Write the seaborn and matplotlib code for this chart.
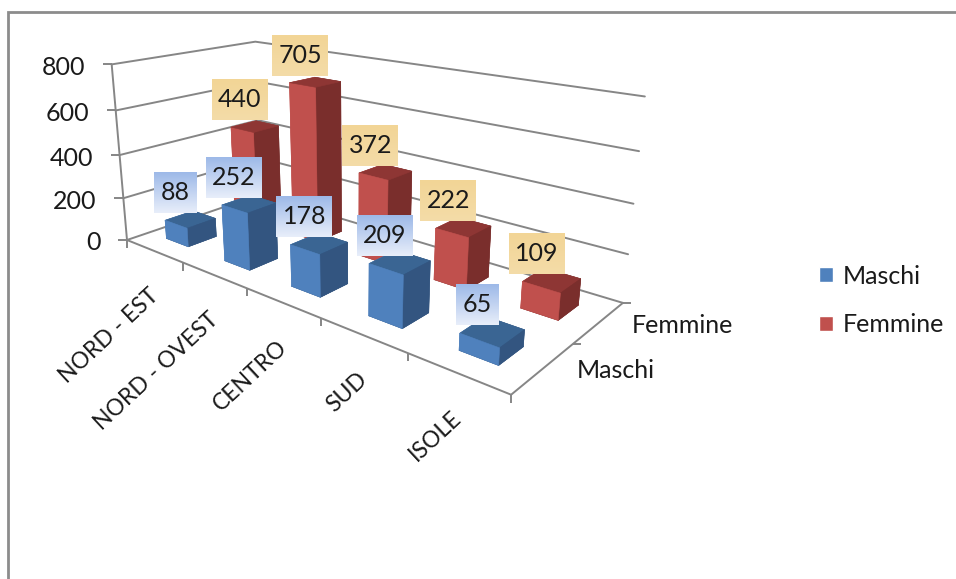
import numpy as np
import matplotlib
matplotlib.use("Agg")
import matplotlib.pyplot as plt
import seaborn as sns
from matplotlib.patches import Patch
from matplotlib.colors import LinearSegmentedColormap
from mpl_toolkits.mplot3d import proj3d

# data
regions = ["NORD - EST", "NORD - OVEST", "CENTRO", "SUD", "ISOLE"]
series = ["Maschi", "Femmine"]
maschi = [88, 252, 178, 209, 65]
femmine = [440, 705, 372, 222, 109]
z_ticks = [0, 200, 400, 600, 800]

W, H = 956, 579
ELEV, AZIM = 17.665, -49.81
ZOOM, RX, RZ = 3.531, 2.372, 0.959

GREY = "#868686"
TEXT = "#1a1a1a"
BAR_W = 0.39
FONT = 18

sns.set_theme(style="white")
plt.rcParams["font.family"] = ["Lato", "DejaVu Sans"]
blue, red = sns.color_palette(["#4F81BD", "#C0504D"])
faces = {
    "Maschi": ["#335580", "#3A6593", "#4F81BD", "#335580", "#4F81BD", "#335580"],
    "Femmine": ["#7A2E2C", "#8E3634", "#C0504D", "#7A2E2C", "#C0504D", "#7A2E2C"],
}

fig = plt.figure(figsize=(W / 100, H / 100), dpi=100)
ax = fig.add_axes([0, 0, 500 / W, 500 / H], projection="3d")
ax.computed_zorder = False
nx, ny = len(regions), len(series)
ax.set_xlim(0, nx)
ax.set_ylim(0, ny)
ax.set_zlim(0, z_ticks[-1])
ax.set_proj_type("persp", focal_length=1)
ax.view_init(ELEV, AZIM)
ax.set_box_aspect((RX, 1, RZ), zoom=ZOOM)
ax.set_axis_off()
ax.patch.set_alpha(0)


def to_px(x, y, z):
    u, v, _ = proj3d.proj_transform(x, y, z, ax.get_proj())
    px = ax.transData.transform((u, v))
    return px[0], H - px[1]


# put the axes so two wall corners land where they are in the chart
a0, b0 = np.array(to_px(0, 0, 0)), np.array(to_px(nx, ny, z_ticks[-1]))
target_a, target_b = np.array([127.0, 240.0]), np.array([645.0, 97.0])
side = 500 * np.linalg.norm(target_b - target_a) / np.linalg.norm(b0 - a0)
ax.set_position([0, 0, side / W, side / H])
a1 = np.array(to_px(0, 0, 0))
shift = target_a - a1
ax.set_position([shift[0] / W, -shift[1] / H, side / W, side / H])

# walls
for z in z_ticks:
    ax.plot([0, 0, nx], [0, ny, ny], [z, z, z], color=GREY, lw=1.4, zorder=1, clip_on=False)
ax.plot([0, 0], [0, 0], [0, z_ticks[-1]], color=GREY, lw=1.4, zorder=1, clip_on=False)
ax.plot([0, nx, nx], [0, 0, ny], [0, 0, 0], color=GREY, lw=1.4, zorder=1, clip_on=False)

# bars, back row first then left to right so they overlap properly
order = 2
for iy in [1, 0]:
    values = maschi if iy == 0 else femmine
    for ix, val in enumerate(values):
        col = ax.bar3d(ix + 0.5 - BAR_W / 2, iy + 0.5 - BAR_W / 2, 0, BAR_W, BAR_W, val,
                       color=faces[series[iy]], edgecolor=faces[series[iy]], linewidth=0.4,
                       shade=False, zorder=order)
        col.set_clip_on(False)
        order += 1

ov = fig.add_axes([0, 0, 1, 1], zorder=5)
ov.set_xlim(0, W)
ov.set_ylim(H, 0)
ov.axis("off")


def tick(x, y, z, dx, dy):
    px, py = to_px(x, y, z)
    ov.plot([px, px + dx], [py, py + dy], color=GREY, lw=1.4, solid_capstyle="butt")


# outer frame
ov.plot([8.5, 8.5, W], [H, 11.5, 11.5], color="#8c8c8c", lw=2, solid_joinstyle="miter", clip_on=False)

# z ticks and labels
for z in z_ticks:
    px, py = to_px(0, 0, z)
    tick(0, 0, z, -9, 0)
    ov.text(px - 26.5, py + 3, str(z), ha="right", va="center", fontsize=FONT, color=TEXT)

# category ticks and labels
for i in range(nx + 1):
    tick(i, 0, 0, 0, 8)
for i, name in enumerate(regions):
    px, py = to_px(i + 0.5, 0, 0)
    ov.text(px - 6, py + 34, name, rotation=43, rotation_mode="anchor", ha="right", va="top",
            fontsize=16.5, color=TEXT)

# series ticks and labels
for i, name in enumerate(series):
    tick(nx, i + 1, 0, 8, 0)
    px, py = to_px(nx, i + 0.5, 0)
    ov.text(px + 33, py + 3, name, ha="left", va="center", fontsize=FONT, color=TEXT)

# data labels
blue_cm = LinearSegmentedColormap.from_list("lab_b", ["#9DB9E8", "#E8EEFA"])
tan_cm = LinearSegmentedColormap.from_list("lab_t", ["#F2D596", "#F4DCA8"])
grad = np.linspace(0, 1, 64).reshape(-1, 1)
for iy, values in enumerate([maschi, femmine]):
    cm = blue_cm if iy == 0 else tan_cm
    for ix, val in enumerate(values):
        px, py = to_px(ix + 0.5, iy + 0.5, val)
        cx, cy = px - 15, py - 26.5
        txt = str(val)
        w = 17 + 13 * len(txt)
        ov.imshow(grad, extent=(cx - w / 2, cx + w / 2, cy + 20.5, cy - 20.5), cmap=cm, aspect="auto",
                  zorder=10 + ix + iy)
        ov.text(cx, cy, txt, ha="center", va="center", fontsize=FONT, color=TEXT, zorder=10 + ix + iy)
ov.set_xlim(0, W)
ov.set_ylim(H, 0)

# legend
handles = [Patch(facecolor=blue, label=series[0]), Patch(facecolor=red, label=series[1])]
ov.legend(handles=handles, loc="center left", bbox_to_anchor=(819, 300.5), bbox_transform=ov.transData,
          frameon=False, fontsize=FONT, labelcolor=TEXT, handlelength=0.56, handleheight=0.56,
          handletextpad=0.38, labelspacing=1.04, borderpad=0, borderaxespad=0)

fig.savefig("out.png", dpi=100)
